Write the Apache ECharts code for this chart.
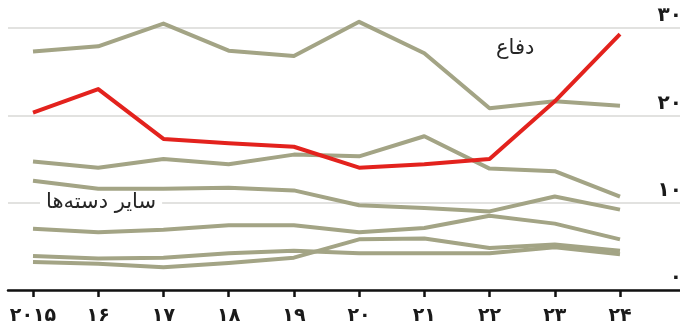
<!DOCTYPE html>
<html>
<head>
<meta charset="utf-8">
<script src="https://cdn.jsdelivr.net/npm/echarts@6/dist/echarts.min.js"></script>
<style>
  html, body { margin: 0; padding: 0; background: #fff; }
  #chart { width: 680px; height: 329px; }
</style>
</head>
<body>
<div id="chart"></div>
<script>
// سال‌ها
const years = [2015, 2016, 2017, 2018, 2019, 2020, 2021, 2022, 2023, 2024]
const yearLabels = ['۲۰۱۵', '۱۶', '۱۷', '۱۸', '۱۹', '۲۰', '۲۱', '۲۲', '۲۳', '۲۴']
const yTicks = [0, 10, 20, 30]
const yTickLabels = ['۰', '۱۰', '۲۰', '۳۰']

// دفاع (خط قرمز)
const defence = [20.3, 23.0, 17.3, 16.8, 16.4, 14.0, 14.4, 15.0, 21.6, 29.3]

// سایر دسته‌ها
const other1 = [27.3, 27.9, 30.5, 27.4, 26.8, 30.7, 27.1, 20.8, 21.6, 21.1]
const other2 = [14.7, 14.0, 15.0, 14.4, 15.5, 15.3, 17.6, 13.9, 13.6, 10.7]
const other3 = [12.5, 11.6, 11.6, 11.7, 11.4, 9.7, 9.4, 9.0, 10.7, 9.2]
const other4 = [7.0, 6.6, 6.9, 7.4, 7.4, 6.6, 7.1, 8.5, 7.6, 5.8]
const other5 = [3.2, 3.0, 2.6, 3.1, 3.7, 5.8, 5.9, 4.8, 5.2, 4.5]
const other6 = [3.9, 3.6, 3.7, 4.2, 4.5, 4.2, 4.2, 4.2, 4.9, 4.1]

const others = [other1, other2, other3, other4, other5, other6]

const FONT = 'DejaVu Sans'
const GRAY = '#a3a485'
const RED = '#e3221d'

function pairs(vals) {
  return years.map((y, i) => [y, vals[i]])
}

const chart = echarts.init(document.getElementById('chart'))

const series = others.map((vals) => ({
  type: 'line',
  data: pairs(vals),
  symbol: 'none',
  silent: true,
  lineStyle: { color: GRAY, width: 4, join: 'round' },
  z: 2
}))

series.push({
  type: 'line',
  data: pairs(defence),
  symbol: 'none',
  silent: true,
  lineStyle: { color: RED, width: 4, join: 'round' },
  z: 3
})

const option = {
  backgroundColor: '#fff',
  animation: false,
  grid: { left: 8, right: 0, top: 0, bottom: 39, containLabel: false, outerBoundsMode: 'none' },
  xAxis: {
    type: 'value',
    min: 2014.6167,
    max: 2024.92,
    axisLine: { show: true, onZero: false, lineStyle: { color: '#111', width: 2.5 } },
    axisTick: {
      show: true,
      customValues: years,
      length: 7,
      lineStyle: { color: '#111', width: 2.5 }
    },
    axisLabel: {
      customValues: years,
      margin: 17,
      fontFamily: FONT,
      fontSize: 19,
      fontWeight: 'bold',
      color: '#1a1a1a',
      formatter: (v) => yearLabels[years.indexOf(Math.round(v))]
    },
    splitLine: { show: false }
  },
  yAxis: {
    type: 'value',
    position: 'right',
    min: 0,
    max: 33.2,
    axisLine: { show: false },
    axisTick: { show: false, customValues: yTicks },
    axisLabel: {
      inside: true,
      customValues: yTicks,
      margin: -2,
      verticalAlign: 'bottom',
      padding: [0, 0, 2, 0],
      fontFamily: FONT,
      fontSize: 20,
      fontWeight: 'bold',
      color: '#1a1a1a',
      formatter: (v) => yTickLabels[yTicks.indexOf(Math.round(v))]
    },
    splitLine: { show: true, lineStyle: { color: '#d9d9d6', width: 1.5 } }
  },
  graphic: [
    {
      type: 'text',
      left: 496,
      top: 38,
      z: 10,
      style: {
        text: 'دفاع',
        fontFamily: FONT,
        fontSize: 21,
        fill: '#262626'
      }
    },
    {
      type: 'text',
      left: 40,
      top: 189,
      z: 1,
      style: {
        text: 'سایر دسته‌ها',
        fontFamily: FONT,
        fontSize: 21,
        fill: '#262626',
        backgroundColor: '#fff',
        padding: [3, 6]
      }
    }
  ],
  series: series
}

chart.setOption(option)
</script>
</body>
</html>
